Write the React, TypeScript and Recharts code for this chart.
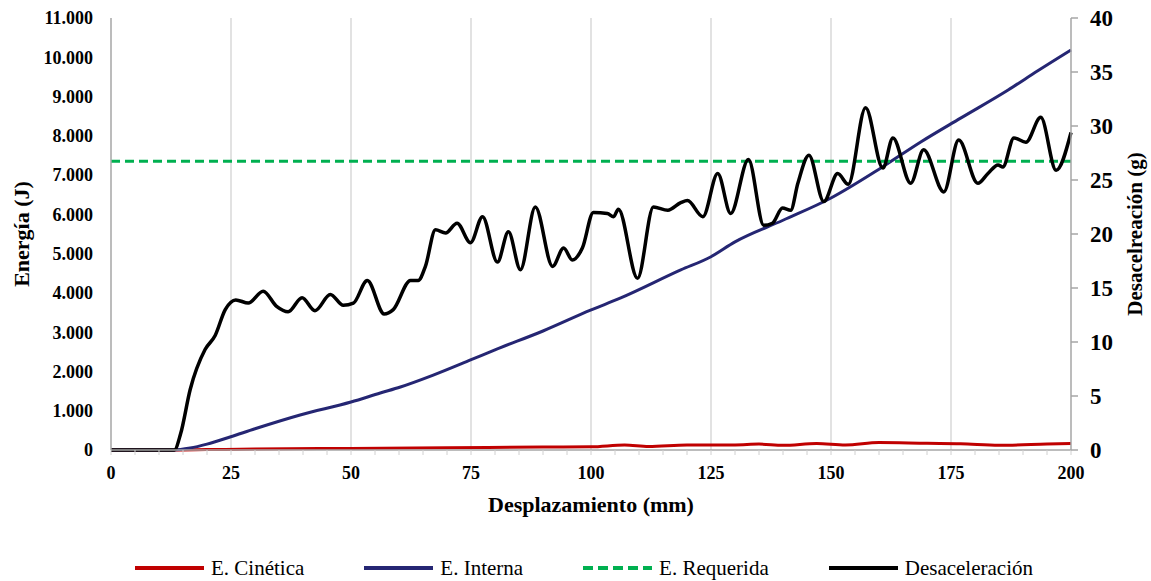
import {
  ComposedChart,
  Line,
  XAxis,
  YAxis,
  ReferenceLine,
  Legend,
} from "recharts";

// desplazamiento (mm) / desaceleración (g)
const decelX = [
  0, 5, 10, 13.2, 14.5, 16.5, 19.6, 21.7, 23.8, 26, 28.6, 31.7, 34.5, 36.9, 39.8, 42.5,
  45.7, 48.4, 50.5, 53.4, 56.9, 58.8, 62.4, 64, 65.5, 67.6, 69.7, 72.1, 74.9, 77.4, 80.5,
  82.8, 85.3, 88.4, 92, 94.3, 96.1, 98.2, 100.5, 103.4, 104.7, 105.7, 109.7, 113, 116,
  118.7, 120.1, 123.3, 126.4, 129.1, 132.8, 136, 137.8, 139.9, 141.6, 143.1, 145.4, 148.5,
  151.4, 153.6, 157.2, 160.8, 162.9, 166.6, 169.3, 173.5, 176.6, 180.6, 182.7, 184.8,
  185.8, 188.1, 190.6, 193.7, 196.9, 200,
];
const decelY = [
  0, 0, 0, 0, 1.5, 5.6, 9.3, 10.6, 13, 13.9, 13.6, 14.7, 13.3, 12.8, 14.1, 12.9,
  14.4, 13.4, 13.6, 15.7, 12.6, 13.0, 15.7, 15.7, 17, 20.4, 20.1, 21, 19.2, 21.6, 17.4,
  20.2, 16.7, 22.5, 17, 18.7, 17.6, 18.7, 22, 21.9, 21.6, 22.3, 15.9, 22.5, 22.2,
  22.9, 23.1, 21.6, 25.6, 21.9, 26.9, 20.8, 21, 22.4, 22.2, 24.7, 27.3, 23,
  25.6, 24.6, 31.7, 26.1, 28.9, 24.7, 27.8, 23.9, 28.7, 24.7, 25.6, 26.4,
  26.2, 28.9, 28.5, 30.8, 25.9, 29.4,
];

// E. Interna (J)
const internaX = [
  0, 13, 16.5, 20, 24.8, 30, 39.4, 50, 56.1, 60.3, 67, 74.9, 80, 90, 99.9, 106.2, 118.7,
  124.9, 130, 140, 150, 160, 168.7, 177, 186.9, 193, 200,
];
const internaY = [
  0, 0, 50, 150, 331, 540, 891, 1222, 1451, 1604, 1900, 2292, 2550, 3030, 3560, 3871, 4584,
  4915, 5300, 5850, 6417, 7150, 7843, 8450, 9167, 9650, 10186,
];

// E. Cinética (J)
const cineticaX = [
  0, 13, 20, 30, 50, 70, 90, 100, 107, 112, 120, 130, 135, 140, 147, 153, 160, 170, 177,
  185, 195, 200,
];
const cineticaY = [
  0, 0, 10, 25, 40, 55, 75, 80, 125, 90, 130, 130, 150, 120, 165, 130, 190, 170, 160,
  120, 150, 165,
];

// E. Requerida (J)
const requeridaX = [0, 200];
const requeridaY = [7350, 7350];

const xLabelTicks = [0, 25, 50, 75, 100, 125, 150, 175, 200];
const xGrid = [25, 50, 75, 100, 125, 150, 175];
const xMinorTicks = Array.from({ length: 41 }, (_, i) => i * 5);
const leftTicks = [0, 1000, 2000, 3000, 4000, 5000, 6000, 7000, 8000, 9000, 10000, 11000];
const rightTicks = [0, 5, 10, 15, 20, 25, 30, 35, 40];

const zip = (xs: number[], ys: number[]) => xs.map((x, i) => ({ x, y: ys[i] }));

const FONT = "'Liberation Serif', 'Times New Roman', serif";
const AXIS = "#A6A6A6";

const fmt = (v: number) => v.toString().replace(/\B(?=(\d{3})+(?!\d))/g, ".");

const legendItems = [
  { name: "E. Cinética", color: "#C00000", dash: undefined },
  { name: "E. Interna", color: "#252673", dash: undefined },
  { name: "E. Requerida", color: "#00B050", dash: "10 5" },
  { name: "Desaceleración", color: "#000000", dash: undefined },
];

const XTick = (props: any) => {
  const { x, y, payload } = props;
  if (!xLabelTicks.includes(payload.value)) return <g />;
  return (
    <text
      x={x}
      y={y}
      dy={20}
      textAnchor="middle"
      fontFamily={FONT}
      fontWeight="bold"
      fontSize={18}
      fill="#000"
    >
      {payload.value}
    </text>
  );
};

const CustomLegend = () => (
  <div
    style={{
      display: "flex",
      justifyContent: "center",
      alignItems: "center",
      gap: 59,
      height: 26,
      paddingLeft: 16,
      fontFamily: FONT,
      fontSize: 21,
      color: "#000",
    }}
  >
    {legendItems.map((it) => (
      <div key={it.name} style={{ display: "flex", alignItems: "center", gap: 6 }}>
        <svg width={71} height={8}>
          <line
            x1={1}
            y1={4}
            x2={70}
            y2={4}
            stroke={it.color}
            strokeWidth={4}
            strokeDasharray={it.dash}
          />
        </svg>
        <span style={{ fontFamily: FONT, fontSize: 21 }}>{it.name}</span>
      </div>
    ))}
  </div>
);

export default function App() {
  return (
    <div style={{ position: "absolute", left: 0, top: 0, fontFamily: FONT }}>
      <ComposedChart
        width={1151}
        height={581}
        margin={{ top: 18, right: 0, left: 0, bottom: 0 }}
      >
        <XAxis
          dataKey="x"
          type="number"
          domain={[0, 200]}
          ticks={xMinorTicks}
          interval={0}
          tick={<XTick />}
          tickSize={5}
          tickMargin={4}
          tickLine={{ stroke: "#D0D0D0" }}
          axisLine={{ stroke: AXIS, strokeWidth: 1.5 }}
          height={105}
          allowDuplicatedCategory={false}
          label={{
            value: "Desplazamiento (mm)",
            position: "insideTop",
            offset: 46,
            style: { fontFamily: FONT, fontWeight: "bold", fontSize: 22, fill: "#000" },
          }}
        />
        <YAxis
          yAxisId="left"
          orientation="left"
          width={111}
          domain={[0, 11000]}
          ticks={leftTicks}
          interval={0}
          tickFormatter={fmt}
          tickLine={false}
          tickSize={0}
          tickMargin={18}
          axisLine={{ stroke: AXIS, strokeWidth: 1.5 }}
          tick={{ fontFamily: FONT, fontWeight: "bold", fontSize: 18, fill: "#000" }}
          label={{
            value: "Energía (J)",
            angle: -90,
            position: "insideLeft",
            offset: 21,
            style: {
              fontFamily: FONT,
              fontWeight: "bold",
              fontSize: 22,
              fill: "#000",
              textAnchor: "middle",
            },
          }}
        />
        <YAxis
          yAxisId="right"
          orientation="right"
          width={80}
          domain={[0, 40]}
          ticks={rightTicks}
          interval={0}
          tickSize={7}
          tickMargin={12}
          tickLine={{ stroke: AXIS, strokeWidth: 1.5 }}
          axisLine={{ stroke: AXIS, strokeWidth: 1.5 }}
          tick={{ fontFamily: FONT, fontWeight: "bold", fontSize: 23, fill: "#000" }}
          label={{
            value: "Desacelreación (g)",
            angle: -90,
            position: "insideRight",
            offset: 16,
            style: {
              fontFamily: FONT,
              fontWeight: "bold",
              fontSize: 21,
              fill: "#000",
              textAnchor: "middle",
            },
          }}
        />
        {xGrid.map((v) => (
          <ReferenceLine
            key={v}
            x={v}
            yAxisId="left"
            stroke="#D9D9D9"
            strokeWidth={1.5}
          />
        ))}
        <Legend verticalAlign="bottom" content={<CustomLegend />} />
        <Line
          yAxisId="left"
          data={zip(cineticaX, cineticaY)}
          dataKey="y"
          name="E. Cinética"
          type="monotone"
          stroke="#C00000"
          strokeWidth={3}
          dot={false}
          isAnimationActive={false}
        />
        <Line
          yAxisId="left"
          data={zip(internaX, internaY)}
          dataKey="y"
          name="E. Interna"
          type="monotone"
          stroke="#252673"
          strokeWidth={3}
          dot={false}
          isAnimationActive={false}
        />
        <Line
          yAxisId="left"
          data={zip(requeridaX, requeridaY)}
          dataKey="y"
          name="E. Requerida"
          type="linear"
          stroke="#00B050"
          strokeWidth={3}
          strokeDasharray="9 5"
          dot={false}
          isAnimationActive={false}
        />
        <Line
          yAxisId="right"
          data={zip(decelX, decelY)}
          dataKey="y"
          name="Desaceleración"
          type="monotone"
          stroke="#000000"
          strokeWidth={3.5}
          dot={false}
          isAnimationActive={false}
        />
      </ComposedChart>
    </div>
  );
}
